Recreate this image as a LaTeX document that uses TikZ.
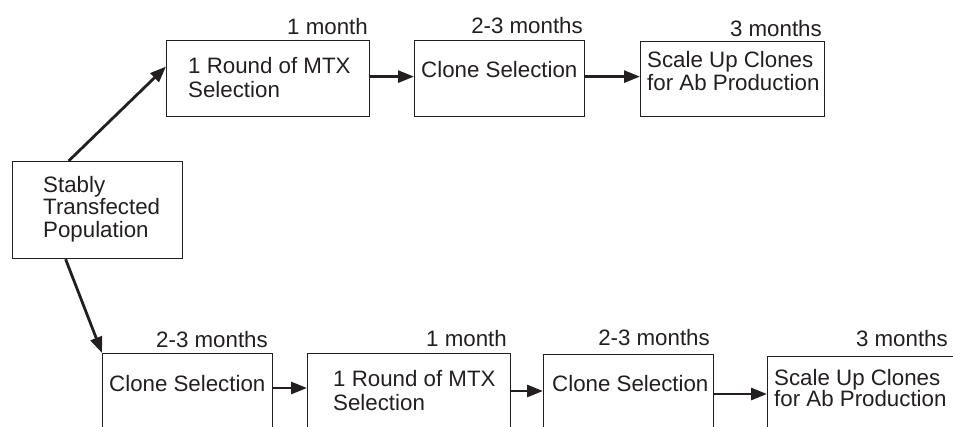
\documentclass[tikz,border=0pt]{standalone}
\usepackage{fontspec}
\setmainfont{Liberation Sans}
\usetikzlibrary{arrows.meta}
\definecolor{ink}{RGB}{35,31,32}
\tikzset{
  box/.style={draw=ink, line width=1.2pt, inner sep=0pt, anchor=north west},
  txt/.style={text=ink, inner sep=0pt, anchor=base west, font=\fontsize{22.3}{24}\selectfont},
  dur/.style={text=ink, inner sep=0pt, anchor=base east, font=\fontsize{22.3}{24}\selectfont},
  arr/.style={draw=ink, line width=2.8pt, -{Triangle[length=16pt,width=12pt]}}
}
\begin{document}
\begin{tikzpicture}[x=1pt,y=-1pt]
\useasboundingbox (0,0) rectangle (953,426);
\clip (0,0) rectangle (953,426);
% boxes
\node[box, minimum width=170pt, minimum height=97pt] (s) at (12,161) {};
\node[box, minimum width=203pt, minimum height=76pt] (a) at (166,40) {};
\node[box, minimum width=170pt, minimum height=76pt] (b) at (414,40) {};
\node[box, minimum width=184pt, minimum height=75pt] (c) at (640,41) {};
\node[box, minimum width=170pt, minimum height=110pt] (d) at (102,353) {};
\node[box, minimum width=203pt, minimum height=110pt] (e) at (307,353) {};
\node[box, minimum width=170pt, minimum height=110pt] (f) at (543,354) {};
\node[box, minimum width=200pt, minimum height=110pt] (g) at (767,356) {};
% box texts
\node[txt] (s1) at (43,192) {Stably};
\node[txt] (s2) at (43,214) {Transfected};
\node[txt] (s3) at (43,237) {Population};
\node[txt] (a1) at (188,73) {1 Round of MTX};
\node[txt] (a2) at (188,97) {Selection};
\node[txt] (b1) at (421,77) {Clone Selection};
\node[txt] (c1) at (647,67) {Scale Up Clones};
\node[txt] (c2) at (647,90) {for Ab Production};
\node[txt] (d1) at (109,391) {Clone Selection};
\node[txt] (e1) at (333,386) {1 Round of MTX};
\node[txt] (e2) at (333,410) {Selection};
\node[txt] (f1) at (552,391) {Clone Selection};
\node[txt] (g1) at (774,385) {Scale Up Clones};
\node[txt] (g2) at (774,406) {for Ab Production};
% durations
\node[dur] (ta) at (368,34) {1 month};
\node[dur] (tb) at (583,33) {2-3 months};
\node[dur] (tc) at (822,36) {3 months};
\node[dur] (td) at (268,347) {2-3 months};
\node[dur] (te) at (507,346) {1 month};
\node[dur] (tf) at (710,345) {2-3 months};
\node[dur] (tg) at (948,346) {3 months};
% arrows
\draw[arr] ([xshift=-29pt]s.north) -- ([yshift=12pt]a.west);
\draw[arr] ([xshift=-32pt]s.south) -- (d.north west);
\draw[arr] ([yshift=2pt]a.east) -- ([yshift=2pt]b.west);
\draw[arr] ([yshift=2pt]b.east) -- ([yshift=2.5pt]c.west);
\draw[arr] ([yshift=-35pt]d.north east) -- ([yshift=-35pt]e.north west);
\draw[arr] ([yshift=-38pt]e.north east) -- ([yshift=-37pt]f.north west);
\draw[arr] ([yshift=-40pt]f.north east) -- ([yshift=-38pt]g.north west);
\end{tikzpicture}
\end{document}
